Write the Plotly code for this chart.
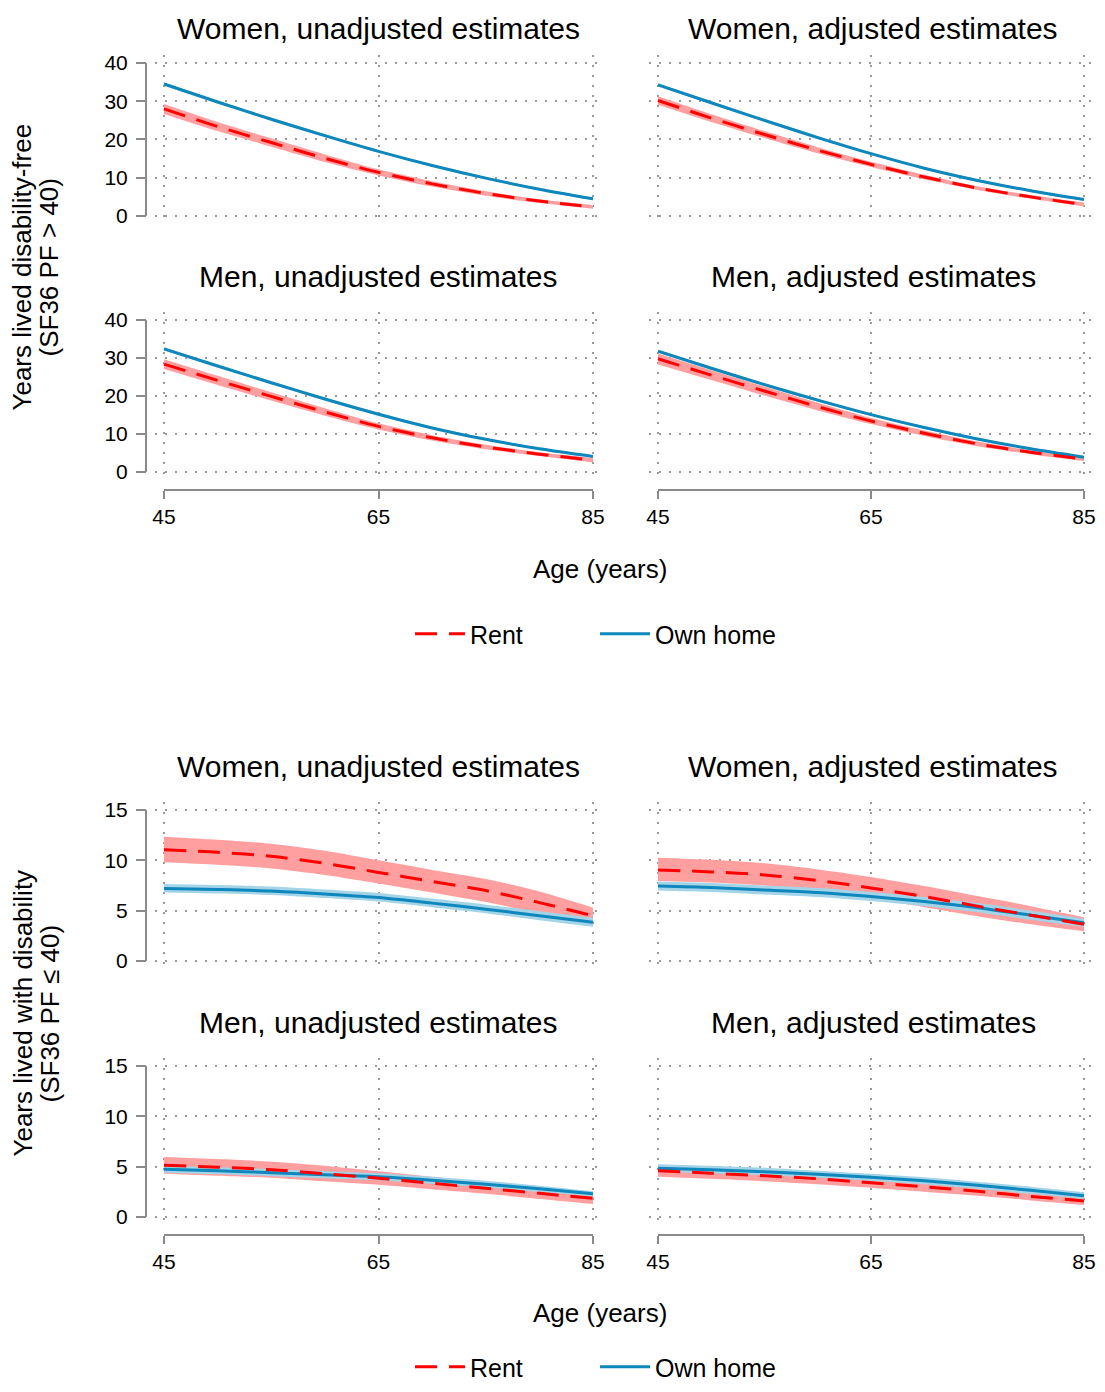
import plotly.graph_objects as go

# ---------------- data ----------------
AGES = [45, 50, 55, 60, 65, 70, 75, 80, 85]
X_TICKS = [45, 65, 85]
Y_TICKS_FREE = [0, 10, 20, 30, 40]
Y_TICKS_DIS = [0, 5, 10, 15]

# Years lived disability-free (SF36 PF > 40)
W_UN_FREE_OWN = [34.5, 29.8, 25.3, 21.0, 16.9, 13.2, 9.9, 7.0, 4.5]
W_UN_FREE_OWN_LO = [34.1, 29.4, 24.9, 20.6, 16.6, 12.9, 9.6, 6.7, 4.2]
W_UN_FREE_OWN_HI = [34.9, 30.2, 25.7, 21.4, 17.2, 13.5, 10.2, 7.3, 4.8]
W_UN_FREE_RENT = [28.0, 23.4, 19.2, 15.1, 11.4, 8.4, 5.9, 3.9, 2.4]
W_UN_FREE_RENT_LO = [26.7, 22.2, 18.1, 14.1, 10.6, 7.7, 5.3, 3.4, 1.9]
W_UN_FREE_RENT_HI = [29.3, 24.6, 20.3, 16.1, 12.2, 9.1, 6.5, 4.4, 2.9]

W_AD_FREE_OWN = [34.3, 29.6, 25.0, 20.5, 16.3, 12.5, 9.3, 6.6, 4.3]
W_AD_FREE_OWN_LO = [33.9, 29.2, 24.6, 20.1, 16.0, 12.2, 9.0, 6.3, 4.0]
W_AD_FREE_OWN_HI = [34.7, 30.0, 25.4, 20.9, 16.6, 12.8, 9.6, 6.9, 4.6]
W_AD_FREE_RENT = [30.2, 25.6, 21.3, 17.2, 13.5, 10.2, 7.3, 5.0, 3.0]
W_AD_FREE_RENT_LO = [29.1, 24.6, 20.4, 16.4, 12.8, 9.6, 6.8, 4.5, 2.5]
W_AD_FREE_RENT_HI = [31.3, 26.6, 22.2, 18.0, 14.2, 10.8, 7.8, 5.5, 3.5]

M_UN_FREE_OWN = [32.4, 27.9, 23.5, 19.2, 15.2, 11.6, 8.6, 6.1, 4.1]
M_UN_FREE_OWN_LO = [32.0, 27.5, 23.1, 18.8, 14.8, 11.3, 8.3, 5.8, 3.8]
M_UN_FREE_OWN_HI = [32.8, 28.3, 23.9, 19.6, 15.6, 11.9, 8.9, 6.4, 4.4]
M_UN_FREE_RENT = [28.4, 24.1, 19.9, 15.8, 12.0, 9.0, 6.6, 4.7, 3.1]
M_UN_FREE_RENT_LO = [27.1, 22.9, 18.8, 14.8, 11.2, 8.3, 6.0, 4.2, 2.5]
M_UN_FREE_RENT_HI = [29.7, 25.3, 21.0, 16.8, 12.8, 9.7, 7.2, 5.2, 3.7]

M_AD_FREE_OWN = [31.8, 27.3, 23.0, 18.9, 15.1, 11.7, 8.7, 6.1, 3.9]
M_AD_FREE_OWN_LO = [31.4, 26.9, 22.6, 18.5, 14.8, 11.4, 8.4, 5.8, 3.6]
M_AD_FREE_OWN_HI = [32.2, 27.7, 23.4, 19.3, 15.4, 12.0, 9.0, 6.4, 4.2]
M_AD_FREE_RENT = [29.8, 25.5, 21.3, 17.2, 13.4, 10.2, 7.4, 5.2, 3.4]
M_AD_FREE_RENT_LO = [28.3, 24.2, 20.1, 16.2, 12.6, 9.5, 6.8, 4.7, 2.9]
M_AD_FREE_RENT_HI = [31.2, 26.8, 22.5, 18.2, 14.2, 10.9, 8.0, 5.7, 3.9]

# Years lived with disability (SF36 PF <= 40)
W_UN_DIS_OWN = [7.2, 7.1, 6.95, 6.65, 6.3, 5.75, 5.15, 4.5, 3.85]
W_UN_DIS_OWN_LO = [6.8, 6.7, 6.55, 6.25, 5.9, 5.35, 4.75, 4.05, 3.4]
W_UN_DIS_OWN_HI = [7.65, 7.55, 7.4, 7.1, 6.75, 6.2, 5.6, 4.95, 4.3]
W_UN_DIS_RENT = [11.05, 10.8, 10.4, 9.7, 8.8, 7.9, 7.0, 5.8, 4.5]
W_UN_DIS_RENT_LO = [9.8, 9.55, 9.2, 8.55, 7.7, 6.8, 5.85, 4.75, 3.75]
W_UN_DIS_RENT_HI = [12.35, 12.05, 11.65, 10.95, 10.0, 9.05, 8.15, 6.9, 5.3]

W_AD_DIS_OWN = [7.45, 7.3, 7.05, 6.8, 6.4, 5.9, 5.3, 4.55, 3.8]
W_AD_DIS_OWN_LO = [7.0, 6.85, 6.6, 6.35, 5.95, 5.45, 4.85, 4.1, 3.4]
W_AD_DIS_OWN_HI = [7.9, 7.75, 7.5, 7.25, 6.85, 6.35, 5.75, 5.0, 4.2]
W_AD_DIS_RENT = [9.05, 8.85, 8.55, 8.0, 7.25, 6.4, 5.45, 4.55, 3.65]
W_AD_DIS_RENT_LO = [7.95, 7.8, 7.5, 7.0, 6.2, 5.35, 4.45, 3.65, 2.95]
W_AD_DIS_RENT_HI = [10.25, 10.05, 9.7, 9.1, 8.35, 7.45, 6.45, 5.45, 4.35]

M_UN_DIS_OWN = [4.75, 4.6, 4.4, 4.2, 4.0, 3.65, 3.25, 2.8, 2.3]
M_UN_DIS_OWN_LO = [4.4, 4.25, 4.05, 3.85, 3.65, 3.3, 2.95, 2.5, 2.05]
M_UN_DIS_OWN_HI = [5.1, 4.95, 4.75, 4.55, 4.35, 4.0, 3.6, 3.1, 2.55]
M_UN_DIS_RENT = [5.15, 4.95, 4.7, 4.3, 3.85, 3.35, 2.85, 2.35, 1.85]
M_UN_DIS_RENT_LO = [4.3, 4.1, 3.9, 3.55, 3.2, 2.75, 2.3, 1.8, 1.3]
M_UN_DIS_RENT_HI = [5.95, 5.75, 5.5, 5.1, 4.55, 4.0, 3.45, 2.95, 2.5]

M_AD_DIS_OWN = [4.85, 4.7, 4.5, 4.25, 3.95, 3.6, 3.15, 2.65, 2.1]
M_AD_DIS_OWN_LO = [4.5, 4.35, 4.15, 3.9, 3.6, 3.25, 2.8, 2.3, 1.8]
M_AD_DIS_OWN_HI = [5.25, 5.1, 4.9, 4.6, 4.3, 3.95, 3.5, 3.0, 2.45]
M_AD_DIS_RENT = [4.6, 4.35, 4.1, 3.8, 3.4, 3.0, 2.55, 2.05, 1.6]
M_AD_DIS_RENT_LO = [4.0, 3.8, 3.55, 3.25, 2.9, 2.5, 2.1, 1.65, 1.2]
M_AD_DIS_RENT_HI = [5.2, 4.95, 4.65, 4.35, 3.95, 3.5, 3.0, 2.5, 2.0]

PANEL_TITLES = ["Women, unadjusted estimates", "Women, adjusted estimates",
                "Men, unadjusted estimates", "Men, adjusted estimates"]
SERIES_NAMES = ["Rent", "Own home"]
X_TITLE = "Age (years)"
Y_TITLE_FREE = ["Years lived disability-free", "(SF36 PF > 40)"]
Y_TITLE_DIS = ["Years lived with disability", "(SF36 PF \u2264 40)"]

# ---------------- styling / geometry ----------------
PAGE_W, PAGE_H = 1105, 1392
BODY_MARGIN = 8  # default html body margin around the plot div
W, H = PAGE_W - 2 * BODY_MARGIN, PAGE_H - 2 * BODY_MARGIN
FONT = "Liberation Sans, Arial, Helvetica, sans-serif"
RED = "#FF0000"
RED_FILL = "#FF9F9F"
BLUE = "#0D87BC"
BLUE_FILL = "#A3D4E8"
AXIS_GRAY = "#8a8a8a"
GRID_GRAY = "#999999"


def px(xp):
    """page pixel x -> paper fraction"""
    return min(1.0, max(0.0, (xp - BODY_MARGIN) / W))


def py(yp):
    """page pixel y -> paper fraction"""
    return min(1.0, max(0.0, 1 - (yp - BODY_MARGIN) / H))


# horizontal geometry of each panel column: pixel of age 45, pixel of age 85, domain edges
COLS = {"L": (164, 593, 154.9, 603.7), "R": (658, 1084, 648.9, PAGE_W - BODY_MARGIN)}

BLOCKS = [
    dict(ticks=Y_TICKS_FREE, ymax=40, rng=[-2.1, 42.1],
         rows=[(216, 63), (472, 320)], xaxis_px=490, legend_px=634, age_px=569,
         title_px=[28, 277], ytitle=Y_TITLE_FREE,
         data=[
             [(W_UN_FREE_RENT, W_UN_FREE_RENT_LO, W_UN_FREE_RENT_HI),
              (W_UN_FREE_OWN, W_UN_FREE_OWN_LO, W_UN_FREE_OWN_HI)],
             [(W_AD_FREE_RENT, W_AD_FREE_RENT_LO, W_AD_FREE_RENT_HI),
              (W_AD_FREE_OWN, W_AD_FREE_OWN_LO, W_AD_FREE_OWN_HI)],
             [(M_UN_FREE_RENT, M_UN_FREE_RENT_LO, M_UN_FREE_RENT_HI),
              (M_UN_FREE_OWN, M_UN_FREE_OWN_LO, M_UN_FREE_OWN_HI)],
             [(M_AD_FREE_RENT, M_AD_FREE_RENT_LO, M_AD_FREE_RENT_HI),
              (M_AD_FREE_OWN, M_AD_FREE_OWN_LO, M_AD_FREE_OWN_HI)],
         ]),
    dict(ticks=Y_TICKS_DIS, ymax=15, rng=[-0.8, 15.8],
         rows=[(961, 810), (1217, 1066)], xaxis_px=1235, legend_px=1367, age_px=1313,
         title_px=[766, 1022], ytitle=Y_TITLE_DIS,
         data=[
             [(W_UN_DIS_RENT, W_UN_DIS_RENT_LO, W_UN_DIS_RENT_HI),
              (W_UN_DIS_OWN, W_UN_DIS_OWN_LO, W_UN_DIS_OWN_HI)],
             [(W_AD_DIS_RENT, W_AD_DIS_RENT_LO, W_AD_DIS_RENT_HI),
              (W_AD_DIS_OWN, W_AD_DIS_OWN_LO, W_AD_DIS_OWN_HI)],
             [(M_UN_DIS_RENT, M_UN_DIS_RENT_LO, M_UN_DIS_RENT_HI),
              (M_UN_DIS_OWN, M_UN_DIS_OWN_LO, M_UN_DIS_OWN_HI)],
             [(M_AD_DIS_RENT, M_AD_DIS_RENT_LO, M_AD_DIS_RENT_HI),
              (M_AD_DIS_OWN, M_AD_DIS_OWN_LO, M_AD_DIS_OWN_HI)],
         ]),
]

fig = go.Figure()
layout = dict(
    width=W, height=H, margin=dict(l=0, r=0, t=0, b=0, pad=0, autoexpand=False),
    paper_bgcolor="white", plot_bgcolor="white",
    font=dict(family=FONT, color="black"),
    showlegend=True,
)
shapes = []
annotations = []

axis_n = 0
for b, blk in enumerate(BLOCKS):
    lo_r, hi_r = blk["rng"]
    for p in range(4):
        axis_n += 1
        row, col = divmod(p, 2)
        side = "L" if col == 0 else "R"
        p45, p85, dl, dr = COLS[side]
        xs = (p85 - p45) / (X_TICKS[-1] - X_TICKS[0])
        x_range = [X_TICKS[0] - (p45 - dl) / xs, X_TICKS[-1] + (dr - p85) / xs]
        y0px, ytpx = blk["rows"][row]
        scale = (y0px - ytpx) / blk["ymax"]
        dom_top = ytpx - (hi_r - blk["ymax"]) * scale
        dom_bot = y0px + (0 - lo_r) * scale
        sfx = "" if axis_n == 1 else str(axis_n)
        xn, yn, xr, yr = "xaxis" + sfx, "yaxis" + sfx, "x" + sfx, "y" + sfx
        show_x = row == 1
        show_y = col == 0

        xa = dict(domain=[px(dl), px(dr)], range=x_range, tickvals=X_TICKS,
                  showgrid=True, gridcolor=GRID_GRAY, gridwidth=2, griddash="2px,8px",
                  zeroline=False, showline=False, fixedrange=True, automargin=False)
        if show_x:
            xa.update(anchor="free", position=py(blk["xaxis_px"]), ticks="outside",
                      ticklen=8, tickwidth=2, tickcolor=AXIS_GRAY, ticklabeloverflow="allow",
                      showticklabels=True, tickfont=dict(size=21, family=FONT, color="black"))
            shapes.append(dict(type="line", xref=xr, yref="paper", x0=X_TICKS[0], x1=X_TICKS[-1],
                               y0=py(blk["xaxis_px"]), y1=py(blk["xaxis_px"]),
                               line=dict(color=AXIS_GRAY, width=2), layer="above"))
        else:
            xa.update(anchor=yr, ticks="", showticklabels=False)
        ya = dict(domain=[py(dom_bot), py(dom_top)], range=blk["rng"], tickvals=blk["ticks"],
                  showgrid=True, gridcolor=GRID_GRAY, gridwidth=2, griddash="2px,8px",
                  zeroline=False, showline=False, fixedrange=True, automargin=False)
        if show_y:
            ya.update(anchor="free", position=px(146), ticks="outside", ticklen=10,
                      tickwidth=2, tickcolor=AXIS_GRAY, showticklabels=True,
                      ticklabelstandoff=4,
                      tickfont=dict(size=21, family=FONT, color="black"))
            shapes.append(dict(type="line", xref="paper", yref=yr, x0=px(146), x1=px(146),
                               y0=0, y1=blk["ymax"], line=dict(color=AXIS_GRAY, width=2),
                               layer="above"))
        else:
            ya.update(anchor=xr, ticks="", showticklabels=False)
        layout[xn] = xa
        layout[yn] = ya

        # panel title
        annotations.append(dict(text=PANEL_TITLES[p], xref="paper", yref="paper",
                                x=px(378.5 if col == 0 else 873), y=py(blk["title_px"][row]),
                                xanchor="center", yanchor="middle", showarrow=False,
                                font=dict(size=30, family=FONT, color="black")))

        (r_est, r_lo, r_hi), (o_est, o_lo, o_hi) = blk["data"][p]
        legend_id = "legend" if b == 0 else "legend2"
        # confidence bands
        for lo_v, hi_v, fc in [(r_lo, r_hi, RED_FILL), (o_lo, o_hi, BLUE_FILL)]:
            fig.add_trace(go.Scatter(x=AGES, y=lo_v, xaxis=xr, yaxis=yr, mode="lines",
                                     line=dict(width=0, shape="spline", smoothing=0.8),
                                     showlegend=False, hoverinfo="skip"))
            fig.add_trace(go.Scatter(x=AGES, y=hi_v, xaxis=xr, yaxis=yr, mode="lines",
                                     fill="tonexty", fillcolor=fc,
                                     line=dict(width=0, shape="spline", smoothing=0.8),
                                     showlegend=False, hoverinfo="skip"))
        # estimate lines
        fig.add_trace(go.Scatter(x=AGES, y=o_est, xaxis=xr, yaxis=yr, mode="lines",
                                 name=SERIES_NAMES[1], legend=legend_id, legendrank=2,
                                 line=dict(color=BLUE, width=3, shape="spline", smoothing=0.8),
                                 showlegend=(p == 0)))
        fig.add_trace(go.Scatter(x=AGES, y=r_est, xaxis=xr, yaxis=yr, mode="lines",
                                 name=SERIES_NAMES[0], legend=legend_id, legendrank=1,
                                 line=dict(color=RED, width=3, dash="22px,12px",
                                           shape="spline", smoothing=0.8),
                                 showlegend=(p == 0)))

    # block-level texts
    annotations.append(dict(text=X_TITLE, xref="paper", yref="paper", x=px(600),
                            y=py(blk["age_px"]), xanchor="center", yanchor="middle",
                            showarrow=False, font=dict(size=26, family=FONT, color="black")))
    ymid = (blk["rows"][0][1] + blk["rows"][1][0]) / 2
    for txt, xc in zip(blk["ytitle"], [22, 49]):
        annotations.append(dict(text=txt, xref="paper", yref="paper", x=px(xc), y=py(ymid),
                                xanchor="center", yanchor="middle", textangle=-90,
                                showarrow=False, font=dict(size=26, family=FONT, color="black")))
    leg = dict(orientation="h", x=px(410), xanchor="left", y=py(blk["legend_px"]),
               yanchor="middle", bgcolor="rgba(0,0,0,0)", itemwidth=50,
               entrywidth=120, entrywidthmode="pixels", traceorder="normal",
               font=dict(size=25, family=FONT, color="black"))
    layout["legend" if b == 0 else "legend2"] = leg

layout["shapes"] = shapes
layout["annotations"] = annotations
fig.update_layout(**layout)
fig.write_html("out.html")
